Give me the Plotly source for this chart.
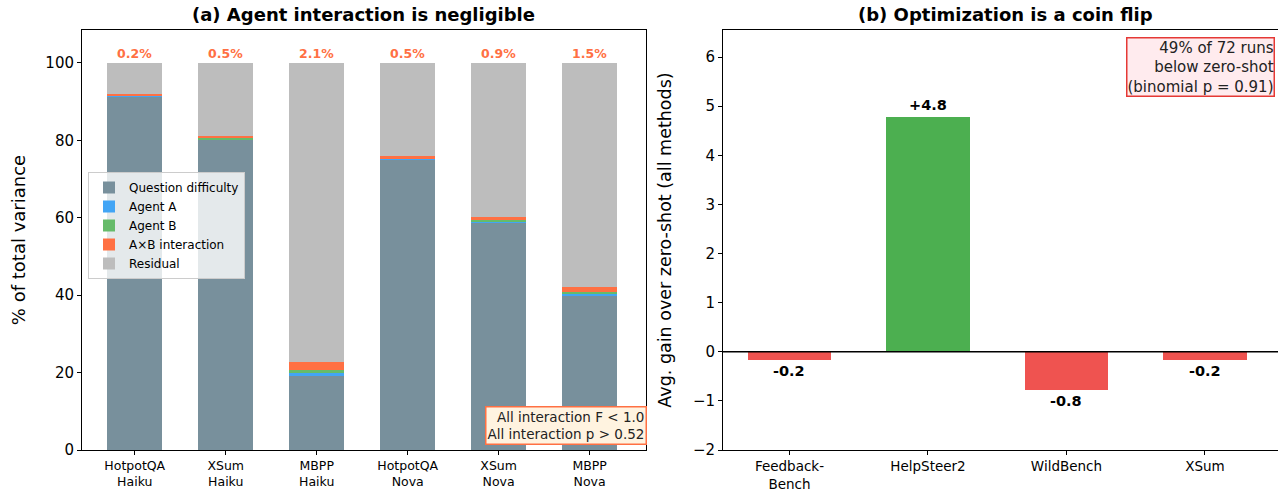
import plotly.graph_objects as go

# ---- data (left panel: variance decomposition, % of total) ----
groups = ["HotpotQA<br>Haiku", "XSum<br>Haiku", "MBPP<br>Haiku", "HotpotQA<br>Nova", "XSum<br>Nova", "MBPP<br>Nova"]
question_difficulty = [91.2, 80.2, 19.2, 75.0, 58.7, 39.8]
agent_a = [0.3, 0.1, 0.9, 0.2, 0.4, 0.7]
agent_b = [0.2, 0.3, 0.5, 0.2, 0.2, 0.2]
interaction = [0.2, 0.5, 2.1, 0.5, 0.9, 1.5]
interaction_labels = ["0.2%", "0.5%", "2.1%", "0.5%", "0.9%", "1.5%"]

# ---- data (right panel: gains) ----
benchmarks = ["Feedback-<br>Bench", "HelpSteer2", "WildBench", "XSum"]
gains = [-0.17, 4.78, -0.78, -0.17]
gain_labels = ["-0.2", "+4.8", "-0.8", "-0.2"]

residual = [100 - q - a - b - i for q, a, b, i in zip(question_difficulty, agent_a, agent_b, interaction)]

W, H = 1278, 491
FONT = "DejaVu Sans"
C_Q, C_A, C_B, C_I, C_R = "#78909C", "#42A5F5", "#66BB6A", "#FF7043", "#BDBDBD"

# layout in pixels
M_L, M_R, M_T, M_B = 82, 0, 30, 41
PW, PH = W - M_L - M_R, H - M_T - M_B
L_x0, L_x1 = 81, 646
R_x0, R_x1 = 723, 1278

def px(x):
    return (x - M_L) / PW

def py(y):
    return (H - M_B - y) / PH

fig = go.Figure()
xs = list(range(len(groups)))
for name, vals, col in [("Question difficulty", question_difficulty, C_Q),
                        ("Agent A", agent_a, C_A),
                        ("Agent B", agent_b, C_B),
                        ("A×B interaction", interaction, C_I),
                        ("Residual", residual, C_R)]:
    fig.add_trace(go.Bar(x=xs, y=vals, name=name, marker=dict(color=col, line=dict(width=0)),
                         width=0.6, xaxis="x", yaxis="y"))

xr = list(range(len(benchmarks)))
fig.add_trace(go.Bar(x=xr, y=gains, width=0.6, showlegend=False,
                     marker=dict(color=["#4CAF50" if g > 0 else "#EF5350" for g in gains], line=dict(width=0)),
                     xaxis="x2", yaxis="y2"))

def ax(fs, **kw):
    d = dict(showline=True, linecolor="black", linewidth=1, mirror=True, ticks="outside",
             ticklen=4, tickcolor="black", showgrid=False, zeroline=False, automargin=False,
             tickfont=dict(family=FONT, size=fs, color="black"))
    d.update(kw)
    return d

# right edge of the right panel is clipped in the reference
r_spacing = 138.5
r_left = -0.48
r_right = r_left + (R_x1 - R_x0) / r_spacing

fig.update_layout(
    width=W, height=H, margin=dict(l=M_L, r=M_R, t=M_T, b=M_B),
    plot_bgcolor="white", paper_bgcolor="white", barmode="relative", bargap=0,
    font=dict(family=FONT, color="black"),
    xaxis=ax(12.5, domain=[max(0, px(L_x0)), px(L_x1)], range=[-0.58, 5.62], tickvals=xs, ticktext=groups,
             anchor="y"),
    yaxis=ax(15, domain=[0, 1], range=[0, 108.5], tickvals=[0, 20, 40, 60, 80, 100],
             title=dict(text="% of total variance", font=dict(family=FONT, size=18), standoff=15),
             anchor="x"),
    xaxis2=ax(13.5, domain=[px(R_x0), px(R_x1)], range=[r_left, r_right], tickvals=xr, ticktext=benchmarks,
              anchor="y2"),
    yaxis2=ax(15, domain=[0, 1], range=[-2, 6.55], tickvals=list(range(-2, 7)), mirror=False,
              title=dict(text="Avg. gain over zero-shot (all methods)", font=dict(family=FONT, size=17.5), standoff=16),
              anchor="x2"),
    legend=dict(x=px(88), y=py(172), xanchor="left", yanchor="top", bgcolor="rgba(255,255,255,0.8)",
                bordercolor="#CCCCCC", borderwidth=1, font=dict(family=FONT, size=12),
                traceorder="normal", tracegroupgap=0),
    showlegend=True,
)

# zero line on right panel
fig.add_shape(type="line", xref="x2 domain", yref="y2", x0=0, x1=1, y0=0, y1=0,
              line=dict(color="black", width=1.3))

annos = []
# titles
annos.append(dict(text="<b>(a) Agent interaction is negligible</b>", xref="paper", yref="paper",
                  x=px(363), y=py(15), xanchor="center", yanchor="middle", showarrow=False,
                  font=dict(family=FONT, size=18)))
annos.append(dict(text="<b>(b) Optimization is a coin flip</b>", xref="paper", yref="paper",
                  x=px(1005), y=py(15), xanchor="center", yanchor="middle", showarrow=False,
                  font=dict(family=FONT, size=18)))
# interaction labels
for i, lab in enumerate(interaction_labels):
    annos.append(dict(text=f"<b>{lab}</b>", x=i, y=100, xref="x", yref="y", xanchor="center",
                      yanchor="bottom", yshift=0, showarrow=False,
                      font=dict(family=FONT, size=12.5, color=C_I)))
# gain labels
for i, (g, lab) in enumerate(zip(gains, gain_labels)):
    annos.append(dict(text=f"<b>{lab}</b>", x=i, y=g, xref="x2", yref="y2", xanchor="center",
                      yanchor="bottom" if g > 0 else "top", yshift=2 if g > 0 else -1,
                      showarrow=False, font=dict(family=FONT, size=14.5, color="black")))
# stat boxes
annos.append(dict(text="All interaction F < 1.0<br>All interaction p > 0.52", xref="paper", yref="paper",
                  x=px(647), y=py(445), xanchor="right", yanchor="bottom", align="right",
                  showarrow=False, font=dict(family=FONT, size=13.5, color="#222"),
                  bgcolor="#FFF3E0", bordercolor=C_I, borderwidth=1.5, borderpad=1))
annos.append(dict(text="49% of 72 runs<br>below zero-shot<br>(binomial p = 0.91)", xref="paper", yref="paper",
                  x=px(1275), y=py(37), xanchor="right", yanchor="top", align="right",
                  showarrow=False, font=dict(family=FONT, size=15, color="#222"),
                  bgcolor="#FFEBEE", bordercolor="#E53935", borderwidth=1.5, borderpad=0))
fig.update_layout(annotations=annos)

fig.write_html("out.html", config={"displayModeBar": False},
               post_script="document.body.style.margin='0';document.body.style.overflow='hidden';")
